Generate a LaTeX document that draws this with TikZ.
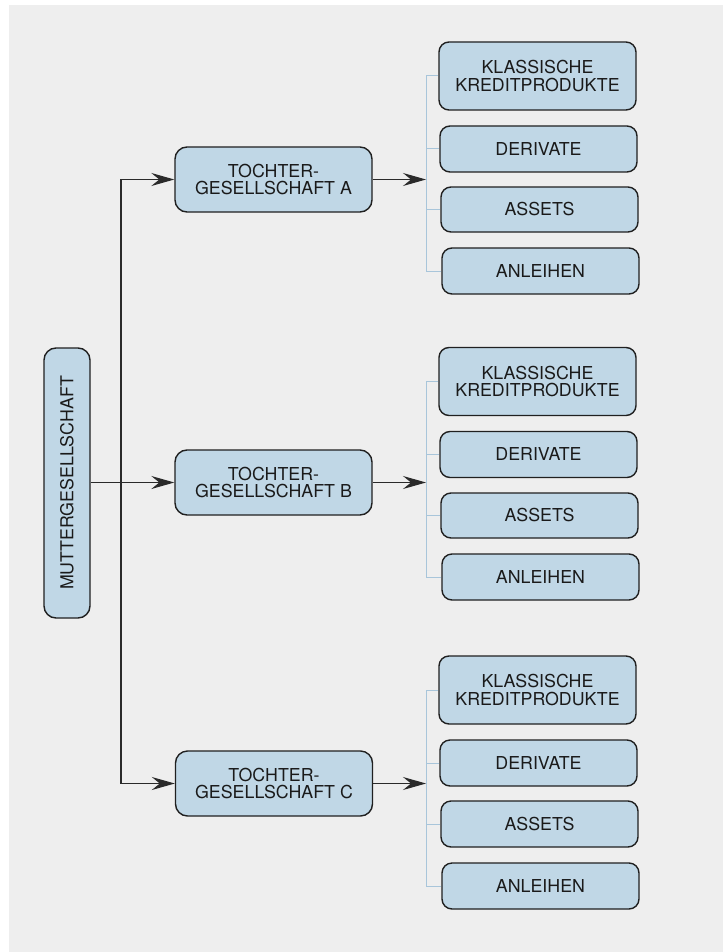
\documentclass[tikz,border=0pt]{standalone}
\usepackage{fontspec}
\setmainfont{TeX Gyre Heros}
\usetikzlibrary{arrows.meta}
\definecolor{bg}{HTML}{EEEEEE}
\definecolor{boxfill}{HTML}{C0D7E6}
\definecolor{boxline}{HTML}{202020}
\definecolor{txt}{HTML}{1A1A1A}
\definecolor{brk}{HTML}{A8C5DA}
\definecolor{conn}{HTML}{2A2A2A}
\begin{document}
\begin{tikzpicture}[x=1pt,y=-1pt,
  box/.style={draw=boxline, fill=boxfill, line width=1.4pt, rounded corners=10pt,
    inner sep=0pt, align=center, text=txt, font=\fontsize{17.8}{17.8}\selectfont},
  sub/.style={box, minimum width=197pt, minimum height=46pt},
  klass/.style={box, minimum width=197pt, minimum height=68pt},
  toch/.style={box, minimum width=197pt, minimum height=65pt, rounded corners=12pt},
  arr/.style={draw=conn, line width=1.2pt, -{Stealth[length=23pt,width=13pt,inset=8pt]}},
  link/.style={draw=conn, line width=1.2pt},
  tick/.style={draw=brk, line width=1pt}]
\fill[white] (0,0) rectangle (723,952);
\fill[bg] (9,5) rectangle (723,952);
\useasboundingbox (0,0) rectangle (723,952);

% parent
\node[box, minimum width=46pt, minimum height=270pt, rounded corners=12pt] (M) at (67,483)
  {\rotatebox{90}{MUTTERGESELLSCHAFT}};

% subsidiaries
\node[toch] (TA) at (273.5,179.5) {TOCHTER-\\GESELLSCHAFT A};
\node[toch] (TB) at (273.5,482.5) {TOCHTER-\\GESELLSCHAFT B};
\node[toch] (TC) at (274,783.5) {TOCHTER-\\GESELLSCHAFT C};

% group A
\node[klass] (KA) at (537.5,76) {KLASSISCHE\\KREDITPRODUKTE};
\node[sub] (DA) at (538.5,149) {DERIVATE};
\node[sub, minimum height=45pt] (SA) at (539.5,209.5) {ASSETS};
\node[sub] (NA) at (540.5,271) {ANLEIHEN};
% group B
\node[klass] (KB) at (537.5,381.5) {KLASSISCHE\\KREDITPRODUKTE};
\node[sub] (DB) at (538.5,454.5) {DERIVATE};
\node[sub, minimum height=45pt] (SB) at (539.5,515.5) {ASSETS};
\node[sub] (NB) at (540.5,577) {ANLEIHEN};
% group C
\node[klass] (KC) at (537.5,690) {KLASSISCHE\\KREDITPRODUKTE};
\node[sub] (DC) at (538.5,763) {DERIVATE};
\node[sub, minimum height=46pt] (SC) at (539.5,824) {ASSETS};
\node[sub] (NC) at (540.5,886) {ANLEIHEN};

% trunk
\coordinate (jA) at (121,0 |- TA.west);
\coordinate (jC) at (121,0 |- TC.west);
\draw[link] (jA) -- (jC);
\draw[arr] (jA) -- (TA.west);
\draw[arr] (jC) -- (TC.west);
\draw[arr] (M.east |- TB.west) -- (TB.west);

% brackets
\foreach \g in {A,B,C}{
  \coordinate (b\g) at (426,0 |- T\g.east);
  \draw[tick] (b\g |- K\g.west) -- (b\g |- N\g.west);
  \draw[tick] (b\g |- K\g.west) -- (K\g.west);
  \draw[tick] (b\g |- D\g.west) -- (D\g.west);
  \draw[tick] (b\g |- S\g.west) -- (S\g.west);
  \draw[tick] (b\g |- N\g.west) -- (N\g.west);
  \draw[arr] (T\g.east) -- (b\g);
}
\end{tikzpicture}
\end{document}
